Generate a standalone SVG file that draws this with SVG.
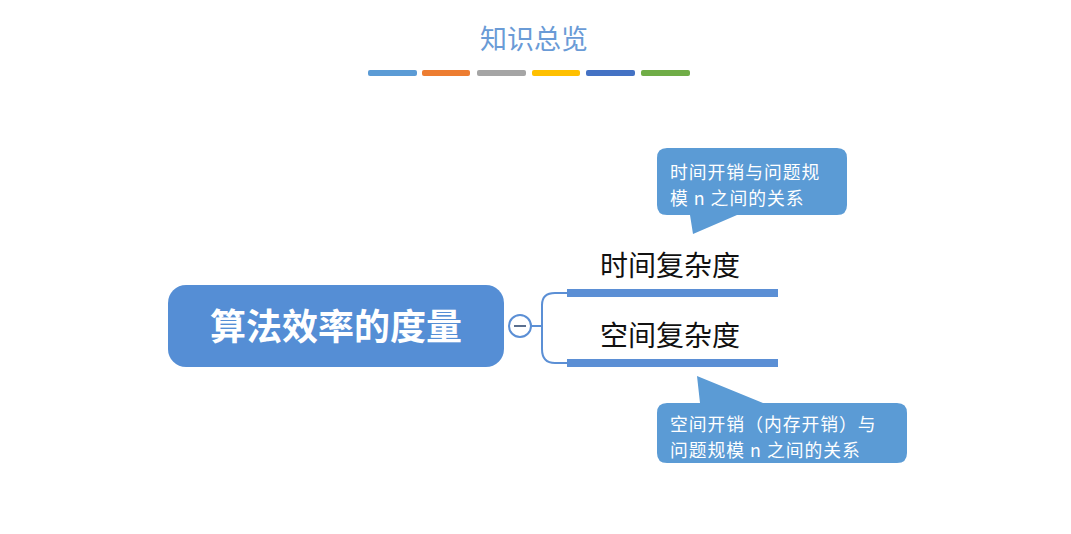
<svg xmlns="http://www.w3.org/2000/svg" width="1071" height="534" viewBox="0 0 1071 534">
<style>
.cjk{font-family:"Noto Sans CJK SC","Liberation Sans",sans-serif}
.callout{fill:#5b9bd5}
.ctext{fill:#ffffff;font-size:17.8px;letter-spacing:1px}
.btext{fill:#111111;font-size:28px}
.bar{fill:#5b8fd5}
.conn{fill:none;stroke:#5b8fd5;stroke-width:2}
</style>
<rect width="1071" height="534" fill="#ffffff"/>
<g id="title">
<text class="cjk" x="534" y="49" text-anchor="middle" font-size="27" fill="#6a9bd6">知识总览</text>
<rect x="368" y="70" width="49" height="6" rx="2" fill="#5b9bd5"/>
<rect x="422" y="70" width="48" height="6" rx="2" fill="#ed7d31"/>
<rect x="477" y="70" width="49" height="6" rx="2" fill="#a5a5a5"/>
<rect x="532" y="70" width="48" height="6" rx="2" fill="#ffc000"/>
<rect x="586" y="70" width="49" height="6" rx="2" fill="#4472c4"/>
<rect x="641" y="70" width="49" height="6" rx="2" fill="#70ad47"/>
</g>
<g id="connectors">
<path class="conn" d="M531 326 H542 M542 326 V305 Q542 293 555 293 H568 M542 326 V349 Q542 363 555 363 H568"/>
</g>
<g id="root">
<rect x="168" y="285" width="336" height="82" rx="18" fill="#558ed5"/>
<text class="cjk" x="336" y="340" text-anchor="middle" font-size="36" font-weight="bold" fill="#ffffff">算法效率的度量</text>
</g>
<g id="collapse">
<circle cx="520" cy="326" r="11" fill="#ffffff" stroke="#5b8fd5" stroke-width="2"/>
<rect x="514" y="325" width="12" height="2" fill="#5a6f8f"/>
</g>
<g id="time">
<text class="cjk btext" x="600" y="276">时间复杂度</text>
<rect class="bar" x="567" y="289" width="211" height="8"/>
</g>
<g id="space">
<text class="cjk btext" x="600" y="346">空间复杂度</text>
<rect class="bar" x="567" y="359" width="211" height="8"/>
</g>
<g id="callout-time">
<path class="callout" d="M667 148 H837 Q847 148 847 158 V205 Q847 215 837 215 H737 L693 234 L690 215 H667 Q657 215 657 205 V158 Q657 148 667 148 Z"/>
<text class="cjk ctext" x="670" y="179">时间开销与问题规</text>
<text class="cjk ctext" x="670" y="205">模 n 之间的关系</text>
</g>
<g id="callout-space">
<path class="callout" d="M667 403 H700 L697 376 L763 403 H897 Q907 403 907 413 V453 Q907 463 897 463 H667 Q657 463 657 453 V413 Q657 403 667 403 Z"/>
<text class="cjk ctext" x="670" y="431">空间开销（内存开销）与</text>
<text class="cjk ctext" x="670" y="457">问题规模 n 之间的关系</text>
</g>
</svg>
